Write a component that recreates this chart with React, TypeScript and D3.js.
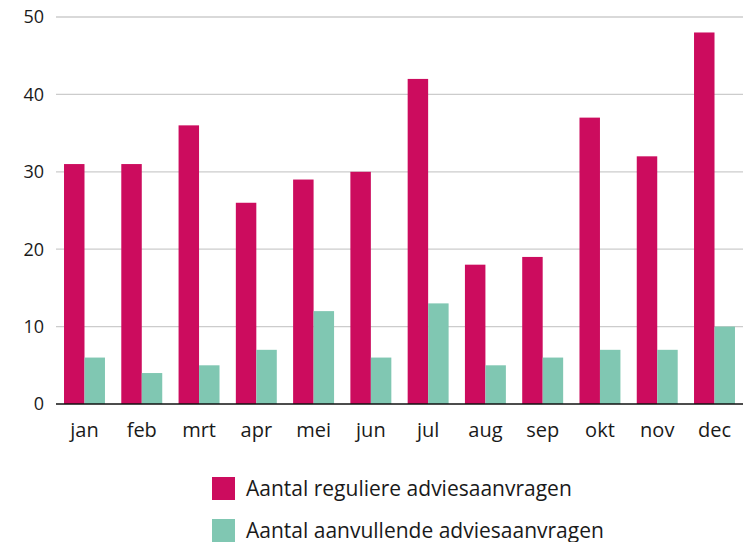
import React from "react";
import * as d3 from "d3";

const months = ["jan","feb","mrt","apr","mei","jun","jul","aug","sep","okt","nov","dec"];
const regular = [31,31,36,26,29,30,42,18,19,37,32,48];
const additional = [6,4,5,7,12,6,13,5,6,7,7,10];
const yTicks = [0,10,20,30,40,50];
const seriesNames = ["Aantal reguliere adviesaanvragen","Aantal aanvullende adviesaanvragen"];
const colors = ["#CC0C5E","#80C7B2"];

export default function App() {
  const W = 743, H = 542;
  const left = 56, right = 743, top = 17, bottom = 404;
  const x = d3.scaleBand().domain(months).range([left, right]).paddingInner(0.285).paddingOuter(0.14);
  const x1 = d3.scaleBand().domain(["r","a"]).range([0, x.bandwidth()]);
  const y = d3.scaleLinear().domain([0, 50]).range([bottom, top]);
  const font = "'Open Sans', sans-serif";
  return (
    <svg width={W} height={H} style={{position:"absolute",left:0,top:0}} fontFamily={font}>
      {yTicks.map(t => (
        <g key={t}>
          {t > 0 && <line x1={left} x2={right} y1={y(t)} y2={y(t)} stroke="#cccccc" strokeWidth={1.3} />}
          <text x={44} y={y(t)} dy="0.35em" textAnchor="end" fontSize={18} fill="#1a1a1a">{t}</text>
        </g>
      ))}
      {months.map((m, i) => (
        <g key={m}>
          <rect x={(x(m) as number) + (x1("r") as number)} width={x1.bandwidth()} y={y(regular[i])} height={y(0) - y(regular[i])} fill={colors[0]} />
          <rect x={(x(m) as number) + (x1("a") as number)} width={x1.bandwidth()} y={y(additional[i])} height={y(0) - y(additional[i])} fill={colors[1]} />
          <text x={(x(m) as number) + x.bandwidth() / 2} y={437} textAnchor="middle" fontSize={20} fill="#1a1a1a">{m}</text>
        </g>
      ))}
      <line x1={left} x2={right} y1={y(0)} y2={y(0)} stroke="#111" strokeWidth={1.5} />
      {seriesNames.map((s, i) => (
        <g key={s}>
          <rect x={212} y={477 + i * 42} width={23} height={23} fill={colors[i]} />
          <text x={246} y={488.5 + i * 42} dy="0.35em" fontSize={21} fill="#1a1a1a">{s}</text>
        </g>
      ))}
    </svg>
  );
}
